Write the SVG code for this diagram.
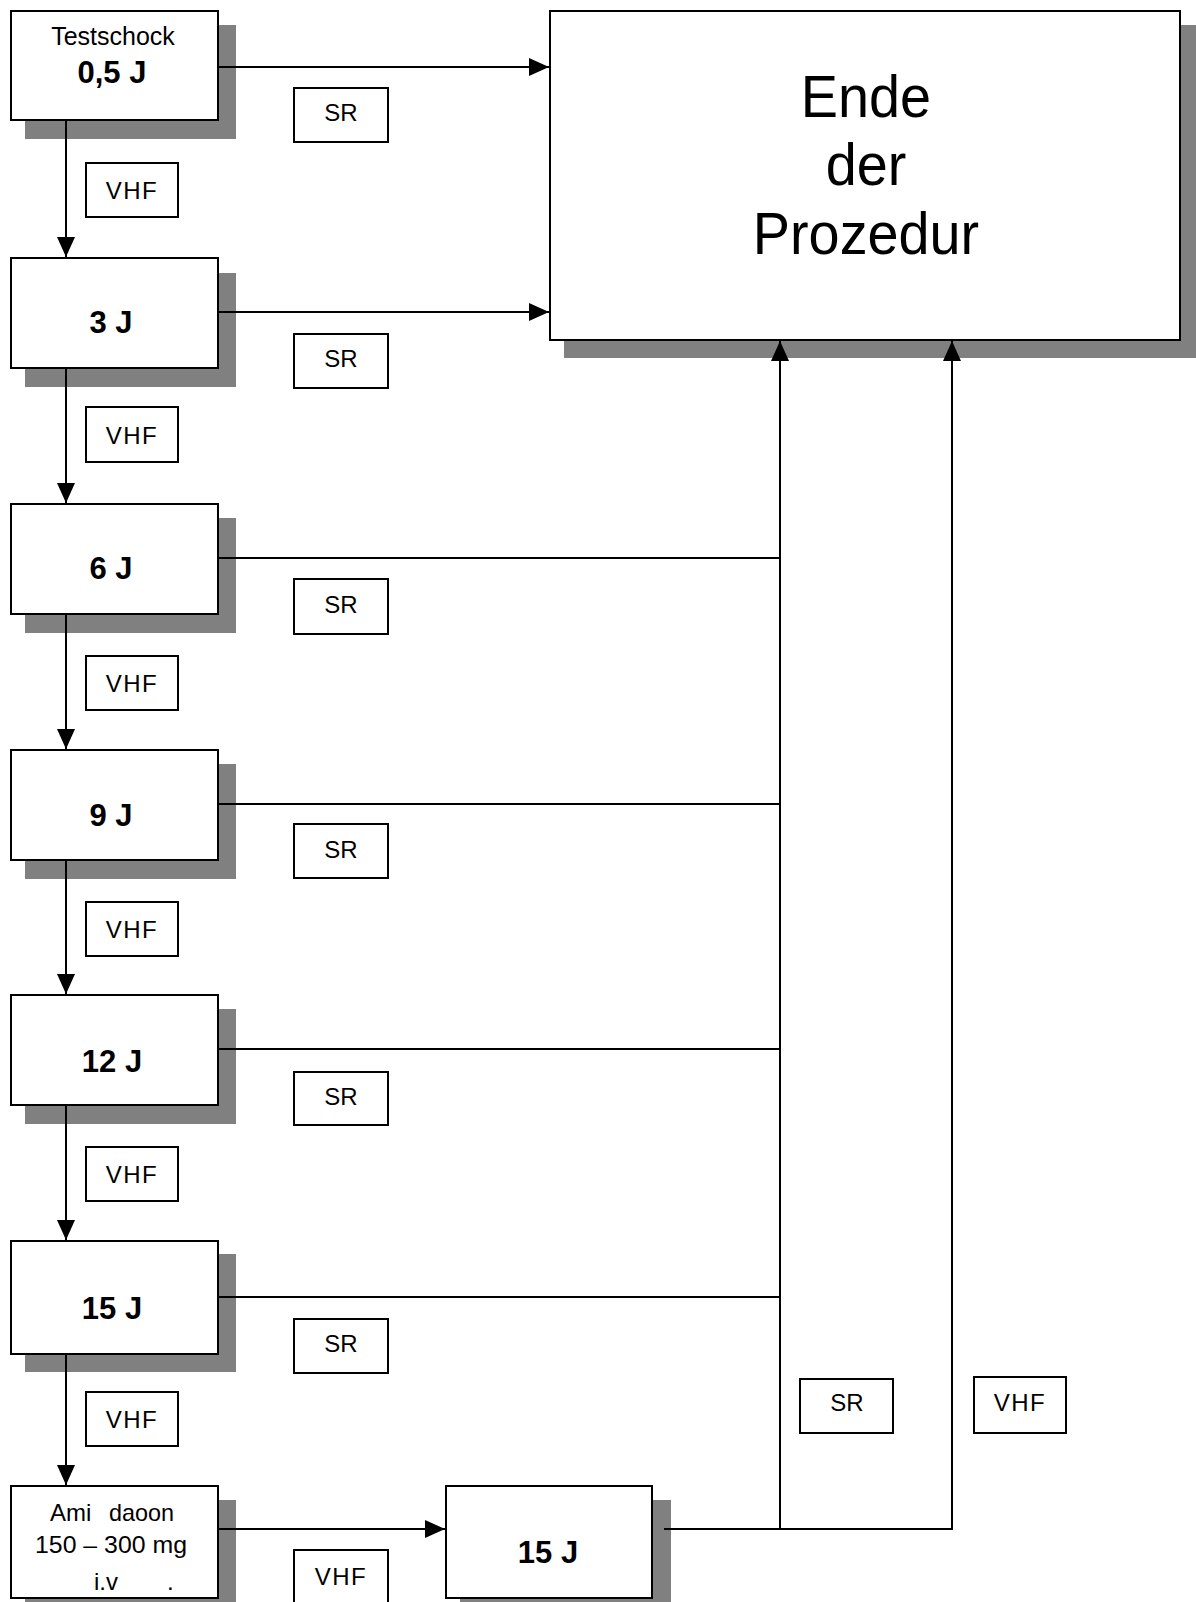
<svg xmlns="http://www.w3.org/2000/svg" width="1196" height="1602" viewBox="0 0 1196 1602">
<style>
.sh{fill:#808080;stroke:none}
.bx{fill:#fff;stroke:#000;stroke-width:2}
.lb{fill:#fff;stroke:#000;stroke-width:2}
.t{font-family:"Liberation Sans",Arial,sans-serif;fill:#000}
.j{font-size:31px;font-weight:bold;text-anchor:middle}
.s{font-size:24px;text-anchor:middle}
.v{font-size:24px;text-anchor:middle;letter-spacing:1.5px}
.big{font-size:60px;text-anchor:middle}
.c{fill:none;stroke:#000;stroke-width:2}
</style>
<defs>
<marker id="ah" markerUnits="userSpaceOnUse" markerWidth="20" markerHeight="18" refX="20" refY="9" orient="auto">
<path d="M0,0 L20,9 L0,18 z" fill="#000"/>
</marker>
</defs>
<rect width="1196" height="1602" fill="#fff"/>
<g id="nodes">
<g id="ende">
<rect class="sh" x="564" y="25" width="632" height="333"/>
<rect class="bx" x="550" y="11" width="630" height="329"/>
<g transform="translate(866,0) scale(0.93,1)">
<text class="t big" x="0" y="117">Ende</text>
<text class="t big" x="0" y="185">der</text>
<text class="t big" x="0" y="254">Prozedur</text>
</g>
</g>
<g id="n05">
<rect class="sh" x="25" y="25" width="211" height="114"/>
<rect class="bx" x="11" y="11" width="207" height="109"/>
<text class="t" x="113" y="45" font-size="25" text-anchor="middle">Testschock</text>
<text class="t j" x="112" y="83">0,5 J</text>
</g>
<g id="n3">
<rect class="sh" x="25" y="273" width="211" height="114"/>
<rect class="bx" x="11" y="258" width="207" height="110"/>
<text class="t j" x="111" y="333">3 J</text>
</g>
<g id="n6">
<rect class="sh" x="25" y="518" width="211" height="115"/>
<rect class="bx" x="11" y="504" width="207" height="110"/>
<text class="t j" x="111" y="579">6 J</text>
</g>
<g id="n9">
<rect class="sh" x="25" y="764" width="211" height="115"/>
<rect class="bx" x="11" y="750" width="207" height="110"/>
<text class="t j" x="111" y="826">9 J</text>
</g>
<g id="n12">
<rect class="sh" x="25" y="1009" width="211" height="115"/>
<rect class="bx" x="11" y="995" width="207" height="110"/>
<text class="t j" x="112" y="1072">12 J</text>
</g>
<g id="n15">
<rect class="sh" x="25" y="1254" width="211" height="118"/>
<rect class="bx" x="11" y="1241" width="207" height="113"/>
<text class="t j" x="112" y="1319">15 J</text>
</g>
<g id="amio">
<rect class="sh" x="25" y="1500" width="211" height="110"/>
<rect class="bx" x="11" y="1486" width="207" height="112"/>
<text class="t" font-size="24"><tspan x="50" y="1521">Ami</tspan><tspan x="109" y="1521" textLength="65" lengthAdjust="spacingAndGlyphs">daoon</tspan></text>
<text class="t" font-size="24" x="35" y="1553" textLength="152" lengthAdjust="spacingAndGlyphs">150 – 300 mg</text>
<text class="t" font-size="24"><tspan x="94" y="1590">i.v</tspan><tspan x="167" y="1590">.</tspan></text>
</g>
<g id="n15b">
<rect class="sh" x="460" y="1500" width="211" height="110"/>
<rect class="bx" x="446" y="1486" width="206" height="112"/>
<text class="t j" x="548" y="1563">15 J</text>
</g>
<g id="labels">
<rect class="lb" x="294" y="88" width="94" height="54"/><text class="t s" x="341" y="121">SR</text>
<rect class="lb" x="294" y="334" width="94" height="54"/><text class="t s" x="341" y="367">SR</text>
<rect class="lb" x="294" y="579" width="94" height="55"/><text class="t s" x="341" y="613">SR</text>
<rect class="lb" x="294" y="824" width="94" height="54"/><text class="t s" x="341" y="858">SR</text>
<rect class="lb" x="294" y="1072" width="94" height="53"/><text class="t s" x="341" y="1105">SR</text>
<rect class="lb" x="294" y="1319" width="94" height="54"/><text class="t s" x="341" y="1352">SR</text>
<rect class="lb" x="86" y="163" width="92" height="54"/><text class="t v" x="132" y="199">VHF</text>
<rect class="lb" x="86" y="407" width="92" height="55"/><text class="t v" x="132" y="444">VHF</text>
<rect class="lb" x="86" y="656" width="92" height="54"/><text class="t v" x="132" y="692">VHF</text>
<rect class="lb" x="86" y="902" width="92" height="54"/><text class="t v" x="132" y="938">VHF</text>
<rect class="lb" x="86" y="1147" width="92" height="54"/><text class="t v" x="132" y="1183">VHF</text>
<rect class="lb" x="86" y="1392" width="92" height="54"/><text class="t v" x="132" y="1428">VHF</text>
<rect class="lb" x="800" y="1379" width="93" height="54"/><text class="t s" x="847" y="1411">SR</text>
<rect class="lb" x="974" y="1377" width="92" height="56"/><text class="t v" x="1020" y="1411">VHF</text>
<rect class="lb" x="294" y="1550" width="94" height="60"/><text class="t v" x="341" y="1585">VHF</text>
</g>
</g>
<g id="connectors">
<line class="c" x1="217" y1="67" x2="549" y2="67" marker-end="url(#ah)"/>
<line class="c" x1="217" y1="312" x2="549" y2="312" marker-end="url(#ah)"/>
<line class="c" x1="217" y1="558" x2="780" y2="558"/>
<line class="c" x1="217" y1="804" x2="780" y2="804"/>
<line class="c" x1="217" y1="1049" x2="780" y2="1049"/>
<line class="c" x1="217" y1="1297" x2="780" y2="1297"/>
<line class="c" x1="217" y1="1529" x2="445" y2="1529" marker-end="url(#ah)"/>
<line class="c" x1="664" y1="1529" x2="952" y2="1529"/>
<line class="c" x1="780" y1="1530" x2="780" y2="341" marker-end="url(#ah)"/>
<line class="c" x1="952" y1="1530" x2="952" y2="341" marker-end="url(#ah)"/>
<line class="c" x1="66" y1="121" x2="66" y2="257" marker-end="url(#ah)"/>
<line class="c" x1="66" y1="369" x2="66" y2="503" marker-end="url(#ah)"/>
<line class="c" x1="66" y1="615" x2="66" y2="749" marker-end="url(#ah)"/>
<line class="c" x1="66" y1="861" x2="66" y2="994" marker-end="url(#ah)"/>
<line class="c" x1="66" y1="1106" x2="66" y2="1240" marker-end="url(#ah)"/>
<line class="c" x1="66" y1="1355" x2="66" y2="1485" marker-end="url(#ah)"/>
</g>
</svg>
